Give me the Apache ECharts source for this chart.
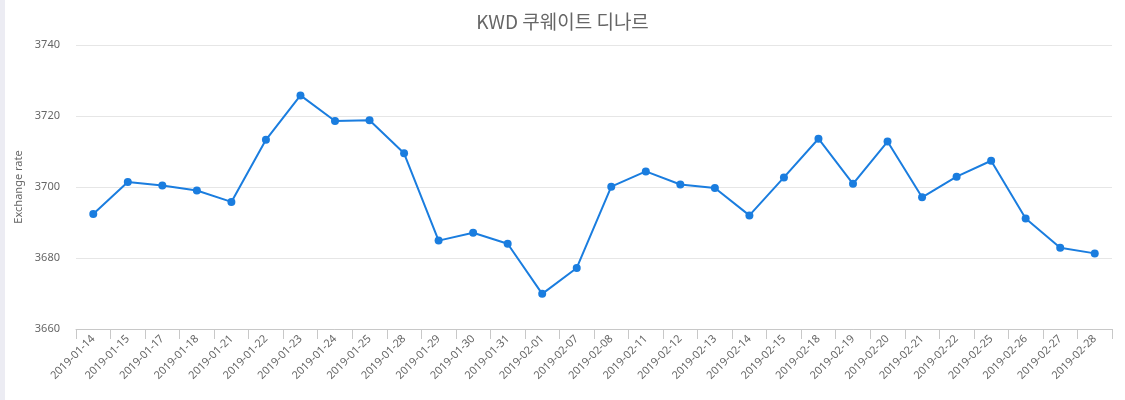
<!DOCTYPE html>
<html>
<head>
<meta charset="utf-8">
<script src="https://cdn.jsdelivr.net/npm/echarts@6/dist/echarts.min.js"></script>
<style>
html,body{margin:0;padding:0;background:#fff;}
#stripe{position:absolute;left:0;top:0;width:5px;height:400px;background:#ececf3;}
#chart{width:1125px;height:400px;}
</style>
</head>
<body>
<div id="stripe"></div>
<div id="chart"></div>
<script>
var categories = ["2019-01-14","2019-01-15","2019-01-17","2019-01-18","2019-01-21","2019-01-22","2019-01-23","2019-01-24","2019-01-25","2019-01-28","2019-01-29","2019-01-30","2019-01-31","2019-02-01","2019-02-07","2019-02-08","2019-02-11","2019-02-12","2019-02-13","2019-02-14","2019-02-15","2019-02-18","2019-02-19","2019-02-20","2019-02-21","2019-02-22","2019-02-25","2019-02-26","2019-02-27","2019-02-28"];
var rates = [3692.4,3701.4,3700.4,3699.0,3695.8,3713.3,3725.8,3718.6,3718.8,3709.5,3684.9,3687.1,3684.0,3669.9,3677.2,3700.1,3704.4,3700.7,3699.7,3692.0,3702.7,3713.6,3700.9,3712.8,3697.1,3702.9,3707.4,3691.1,3682.9,3681.3];
var yTicks = {min: 3660, max: 3740, interval: 20};
var titleText = "KWD 쿠웨이트 디나르";
var yName = "Exchange rate";

var chart = echarts.init(document.getElementById('chart'), null, {renderer: 'canvas'});
chart.setOption({
  animation: false,
  title: {
    text: titleText,
    left: 'center',
    top: 7,
    textStyle: {fontFamily: '"Noto Sans CJK KR", "Noto Sans", sans-serif', fontSize: 19, fontWeight: 'normal', color: '#666'}
  },
  grid: {left: 76, right: 13, top: 45, bottom: 71},
  xAxis: {
    type: 'category',
    data: categories,
    boundaryGap: true,
    axisLine: {lineStyle: {color: '#c8c8c8'}},
    axisTick: {show: true, length: 10, lineStyle: {color: '#c8c8c8'}},
    axisLabel: {rotate: 45, interval: 0, fontSize: 11, color: '#666', fontFamily: '"Noto Sans", sans-serif', margin: 8}
  },
  yAxis: {
    type: 'value',
    min: yTicks.min,
    max: yTicks.max,
    interval: yTicks.interval,
    name: yName,
    nameLocation: 'middle',
    nameGap: 43,
    nameTextStyle: {fontSize: 11, color: '#666', fontFamily: '"Noto Sans", sans-serif'},
    axisLine: {show: false},
    axisTick: {show: false},
    splitLine: {lineStyle: {color: '#e6e6e6'}},
    axisLabel: {fontSize: 11, color: '#666', fontFamily: '"Noto Sans", sans-serif', margin: 16,
      formatter: function (v) { return String(v); }}
  },
  series: [{
    type: 'line',
    data: rates,
    symbol: 'circle',
    symbolSize: 8,
    lineStyle: {color: '#1a7ddf', width: 2},
    itemStyle: {color: '#1a7ddf'}
  }]
});
</script>
</body>
</html>
